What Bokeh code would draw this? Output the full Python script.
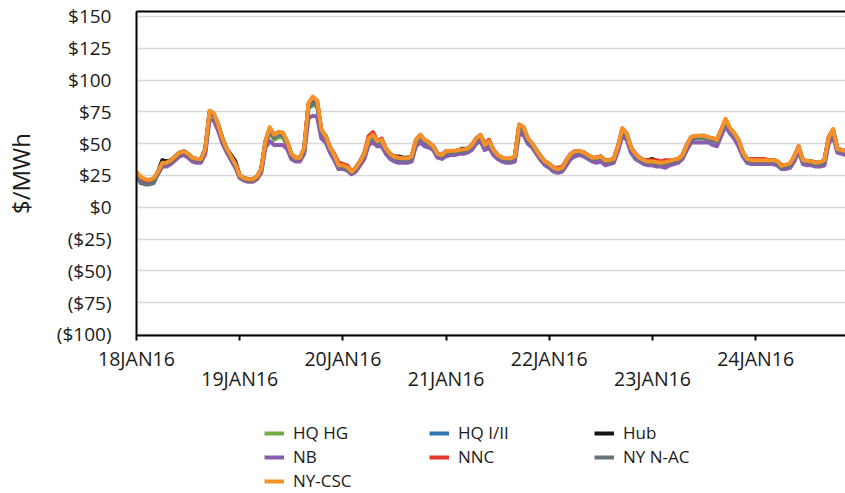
from bokeh.plotting import figure
from bokeh.models import Range1d, FixedTicker, LinearAxis, Legend, LegendItem
from bokeh.layouts import column
from bokeh.embed import file_html
from bokeh.resources import INLINE

# ---------------- data (hourly, 18JAN16 00:00 onward) ----------------
hours = list(range(168))

day_ticks = [0, 24, 48, 72, 96, 120, 144]
day_labels = ["18JAN16", "19JAN16", "20JAN16", "21JAN16", "22JAN16", "23JAN16", "24JAN16"]

y_ticks = [-100, -75, -50, -25, 0, 25, 50, 75, 100, 125, 150]
y_tick_labels = ["($100)", "($75)", "($50)", "($25)", "$0", "$25", "$50", "$75", "$100", "$125", "$150"]

hq_hg = [27, 22, 20, 20, 21, 27, 33, 33, 35, 38, 41, 42, 40, 37, 36, 36, 44, 73, 72, 63, 52, 44, 38, 32,
         24, 22, 21, 21, 23, 28, 50, 59, 53, 55, 55, 49, 40, 37, 37, 44, 78, 80, 80, 58, 53, 45, 39, 30,
         31, 30, 27, 30, 34, 40, 51, 55, 50, 51, 44, 40, 38, 37, 37, 37, 38, 50, 54, 50, 49, 46, 40, 39,
         42, 43, 43, 44, 44, 45, 47, 52, 55, 47, 50, 43, 39, 37, 37, 37, 38, 62, 60, 52, 48, 43, 38, 34,
         32, 29, 28, 29, 35, 40, 42, 43, 41, 39, 37, 37, 38, 35, 35, 36, 46, 59, 55, 45, 40, 37, 35, 34,
         34, 34, 33, 34, 35, 36, 36, 39, 47, 53, 54, 54, 54, 53, 52, 51, 59, 67, 60, 56, 51, 41, 36, 35,
         35, 35, 35, 35, 35, 35, 31, 31, 33, 38, 46, 35, 34, 34, 33, 34, 35, 53, 59, 44, 43, 42, 42, 41]

hq_i_ii = [27, 23, 21, 21, 22, 27, 34, 34, 36, 39, 42, 43, 41, 38, 37, 37, 45, 74, 72, 64, 53, 45, 39, 33,
           24, 22, 21, 21, 23, 29, 51, 60, 55, 57, 57, 51, 41, 38, 38, 45, 79, 82, 81, 59, 55, 46, 40, 32,
           32, 30, 27, 30, 35, 41, 52, 56, 51, 52, 45, 41, 38, 38, 37, 37, 39, 51, 55, 51, 50, 47, 41, 40,
           43, 43, 43, 44, 44, 45, 48, 53, 56, 48, 51, 44, 40, 38, 37, 37, 39, 63, 61, 53, 49, 44, 39, 35,
           33, 30, 29, 30, 36, 41, 43, 43, 42, 40, 38, 38, 39, 36, 36, 37, 47, 60, 56, 46, 41, 38, 36, 35,
           35, 34, 34, 34, 35, 36, 37, 40, 48, 54, 55, 55, 55, 54, 53, 52, 60, 68, 61, 57, 52, 42, 37, 36,
           36, 36, 36, 36, 36, 35, 31, 32, 33, 39, 47, 36, 35, 35, 34, 34, 36, 54, 60, 45, 44, 43, 43, 42]

hub = [27, 23, 21, 21, 22, 28, 37, 36, 37, 40, 43, 44, 42, 39, 38, 38, 46, 75, 73, 65, 54, 46, 41, 36,
       25, 23, 22, 22, 24, 30, 52, 62, 56, 58, 58, 52, 42, 39, 39, 46, 81, 85, 83, 60, 56, 47, 41, 33,
       33, 31, 28, 31, 36, 42, 53, 56, 52, 53, 46, 42, 40, 40, 39, 39, 40, 52, 56, 52, 51, 48, 42, 41,
       44, 44, 44, 45, 46, 46, 49, 54, 56, 49, 52, 45, 41, 39, 38, 38, 40, 64, 62, 54, 50, 45, 40, 36,
       34, 31, 30, 31, 37, 42, 44, 44, 43, 41, 39, 39, 40, 37, 37, 38, 48, 61, 57, 47, 42, 39, 37, 37,
       38, 36, 35, 36, 36, 37, 38, 41, 49, 55, 55, 56, 56, 55, 54, 53, 60, 68, 62, 58, 53, 43, 38, 38,
       38, 38, 37, 37, 37, 36, 33, 33, 34, 40, 47, 37, 36, 36, 35, 35, 37, 55, 61, 46, 45, 44, 44, 44]

nb = [26, 22, 20, 20, 21, 26, 32, 32, 34, 37, 40, 41, 39, 36, 35, 35, 42, 69, 68, 60, 50, 43, 37, 31,
      23, 21, 20, 20, 22, 27, 47, 52, 49, 49, 49, 46, 38, 36, 36, 42, 70, 72, 71, 54, 51, 43, 37, 30,
      30, 29, 26, 28, 33, 38, 49, 51, 48, 48, 42, 38, 36, 35, 35, 35, 36, 48, 51, 48, 47, 45, 39, 38,
      40, 41, 41, 42, 42, 43, 45, 50, 52, 45, 47, 41, 38, 36, 35, 35, 36, 58, 57, 50, 47, 42, 37, 33,
      31, 28, 27, 28, 33, 38, 40, 41, 40, 38, 36, 35, 36, 33, 34, 35, 44, 56, 53, 43, 38, 36, 34, 33,
      33, 32, 32, 31, 33, 34, 35, 38, 45, 51, 51, 51, 51, 51, 49, 48, 56, 64, 58, 54, 48, 40, 35, 34,
      34, 34, 34, 34, 34, 33, 30, 30, 31, 36, 44, 34, 33, 33, 32, 32, 33, 50, 56, 43, 42, 41, 41, 40]

nnc = [27, 23, 21, 21, 22, 27, 34, 34, 36, 39, 42, 43, 41, 38, 37, 37, 45, 75, 73, 64, 53, 45, 39, 34,
       24, 22, 21, 21, 23, 29, 51, 62, 57, 59, 58, 51, 41, 38, 38, 46, 81, 86, 83, 61, 56, 47, 42, 35,
       34, 33, 28, 31, 36, 43, 56, 59, 52, 54, 46, 42, 40, 39, 38, 38, 40, 53, 57, 53, 51, 48, 42, 41,
       44, 44, 44, 45, 45, 46, 49, 54, 57, 50, 53, 45, 41, 39, 38, 38, 40, 65, 63, 54, 50, 45, 40, 36,
       34, 31, 31, 32, 37, 42, 44, 44, 43, 41, 39, 39, 40, 37, 37, 38, 48, 62, 58, 47, 42, 39, 37, 37,
       37, 37, 36, 37, 37, 37, 38, 41, 49, 55, 56, 56, 56, 55, 54, 53, 61, 69, 62, 58, 53, 43, 38, 38,
       38, 38, 38, 37, 37, 36, 33, 33, 34, 40, 48, 37, 36, 36, 35, 35, 37, 55, 61, 46, 45, 44, 44, 43]

ny_n_ac = [24, 19, 18, 18, 19, 27, 34, 34, 36, 39, 42, 43, 41, 38, 37, 37, 45, 74, 72, 64, 53, 45, 39, 33,
           24, 22, 21, 21, 23, 29, 51, 60, 55, 57, 57, 51, 41, 38, 38, 45, 80, 82, 81, 59, 55, 46, 40, 32,
           32, 30, 27, 30, 35, 41, 52, 56, 51, 52, 45, 41, 38, 38, 37, 37, 39, 51, 55, 51, 50, 47, 41, 40,
           43, 43, 43, 44, 44, 45, 48, 53, 56, 48, 51, 44, 40, 38, 37, 37, 39, 63, 61, 53, 49, 44, 39, 35,
           33, 30, 29, 30, 36, 41, 43, 43, 42, 40, 38, 38, 39, 36, 36, 37, 47, 60, 56, 46, 41, 38, 36, 35,
           35, 34, 34, 34, 35, 36, 37, 40, 48, 54, 55, 55, 55, 54, 53, 52, 60, 68, 61, 57, 52, 42, 37, 36,
           36, 36, 36, 36, 36, 35, 31, 32, 33, 39, 47, 36, 35, 35, 34, 34, 36, 54, 60, 45, 44, 43, 43, 42]

ny_csc = [28, 24, 22, 21.5, 23, 28, 35, 35, 37, 40, 43, 44, 42, 39, 38, 38, 46, 76, 74, 65, 54, 46, 40, 34,
          25, 23, 22, 22, 24, 30, 52, 63, 57, 59, 59, 52, 42, 39, 39, 47, 82, 87, 84, 61, 56, 47, 41, 33,
          33, 31.5, 28, 31, 36, 42, 54, 57, 52, 53, 46, 42, 39.5, 39, 38.5, 38.5, 40, 53, 57, 53, 51, 48, 42, 41,
          44, 44.5, 44.5, 45, 45.5, 46, 49, 54, 57, 49, 52, 45, 41, 39, 38.5, 38.5, 40, 65, 63, 54.5, 50.5, 45, 40, 36,
          34, 31, 30, 31, 37, 42, 44, 44.5, 43, 41, 39, 39, 40, 37, 37, 38, 48, 62, 58, 47, 42, 39, 37, 36,
          36, 35.5, 35, 35.5, 36.5, 37.5, 38, 41, 49, 55.5, 56, 56.5, 56.5, 55, 54.5, 53, 61, 69.5, 62.5, 58.5, 53, 43, 38, 37,
          37, 37, 37, 37, 37, 36.5, 32.5, 33.5, 34.5, 40, 48, 37, 36.5, 36, 35, 35.5, 37, 55, 61.5, 46, 45, 44, 44, 43]

series_names = ["HQ HG", "HQ I/II", "Hub", "NB", "NNC", "NY N-AC", "NY-CSC"]
series_values = [hq_hg, hq_i_ii, hub, nb, nnc, ny_n_ac, ny_csc]
series_colors = ["#70AD47", "#2E75B6", "#151515", "#8B5DAE", "#E8372C", "#64737D", "#F7922A"]

FONT = "Open Sans"
TXT = "#1a1a1a"
LW = 4

# ---------------- main chart ----------------
p = figure(width=845, height=400, output_backend="svg", toolbar_location=None,
           x_range=Range1d(0, 164.9), y_range=Range1d(-100.8, 153.9),
           min_border_left=135, min_border_top=11, min_border_right=0, min_border_bottom=65)
p.outline_line_color = None
p.background_fill_color = "white"
p.border_fill_color = "white"
p.xgrid.visible = False
p.ygrid.ticker = FixedTicker(ticks=y_ticks)
p.ygrid.grid_line_color = "#D9D9D9"
p.ygrid.grid_line_width = 1.5

# y axis
ya = p.yaxis[0]
ya.ticker = FixedTicker(ticks=y_ticks)
ya.major_label_overrides = {t: l for t, l in zip(y_ticks, y_tick_labels)}
ya.major_tick_line_color = None
ya.minor_tick_line_color = None
ya.major_tick_out = 0
ya.major_tick_in = 0
ya.major_label_standoff = 25
ya.axis_line_color = "black"
ya.axis_line_width = 2
ya.major_label_text_font = FONT
ya.major_label_text_font_size = "19px"
ya.major_label_text_color = TXT
ya.axis_label = "$/MWh"
ya.axis_label_text_font = FONT
ya.axis_label_text_font_size = "24px"
ya.axis_label_text_font_style = "normal"
ya.axis_label_text_color = TXT
ya.axis_label_standoff = 17

# x axis with staggered (two-row) labels
xa = p.xaxis[0]
xa.ticker = FixedTicker(ticks=day_ticks)
xa.major_label_overrides = {t: (l if i % 2 == 0 else "\n" + l)
                            for i, (t, l) in enumerate(zip(day_ticks, day_labels))}
xa.major_tick_out = 5
xa.major_tick_in = 0
xa.major_tick_line_width = 2
xa.major_tick_line_color = "black"
xa.minor_tick_line_color = None
xa.axis_line_color = "black"
xa.axis_line_width = 2
xa.major_label_standoff = 4
xa.major_label_text_font = FONT
xa.major_label_text_font_size = "19.5px"
xa.major_label_text_color = TXT
xa.major_label_text_line_height = 0.75

# top border line
ta = LinearAxis(ticker=FixedTicker(ticks=[]))
ta.axis_line_color = "black"
ta.axis_line_width = 2
ta.major_tick_line_color = None
ta.minor_tick_line_color = None
ta.major_tick_out = 0
ta.major_tick_in = 0
ta.major_label_standoff = 0
ta.major_label_text_font_size = "0px"
p.add_layout(ta, "above")

for name, vals, col in zip(series_names, series_values, series_colors):
    p.line(hours, vals, line_color=col, line_width=LW, line_join="round")

# ---------------- legend strip ----------------
lg = figure(width=845, height=93, output_backend="svg", toolbar_location=None,
            x_axis_type=None, y_axis_type=None, x_range=Range1d(0, 1), y_range=Range1d(0, 1),
            min_border_left=0, min_border_right=0, min_border_top=0, min_border_bottom=0)
lg.outline_line_color = None
lg.grid.visible = False
lg.background_fill_color = "white"
lg.border_fill_color = "white"

items = []
for name, col in zip(series_names, series_colors):
    # swatch-only renderers, placed outside the visible range
    r = lg.line([-2, -1], [-2, -2], line_color=col, line_width=LW)
    items.append(LegendItem(label=name, renderers=[r]))

legend = Legend(items=items, orientation="horizontal", ncols=3, location=(128, 1))
legend.glyph_width = 20
legend.glyph_height = 18
legend.label_height = 18
legend.label_width = 135
legend.label_standoff = 9
legend.spacing = 1
legend.padding = 0
legend.margin = 0
legend.border_line_color = None
legend.background_fill_alpha = 0
legend.label_text_font = FONT
legend.label_text_font_size = "17px"
legend.label_text_color = TXT
lg.add_layout(legend, "center")

layout = column(p, lg, spacing=0)
open("out.html", "w").write(file_html(layout, INLINE))
